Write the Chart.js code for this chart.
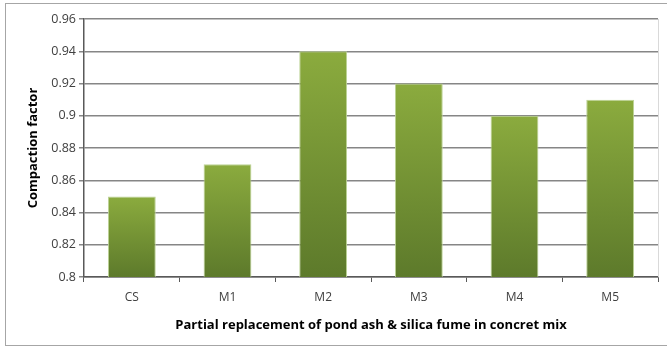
<!DOCTYPE html>
<html>
<head>
<meta charset="utf-8">
<script src="https://cdn.jsdelivr.net/npm/chart.js@4"></script>
<style>
  html, body { margin: 0; padding: 0; background: #fff; }
  #wrap { width: 667px; height: 349px; position: relative; }
</style>
</head>
<body>
<div id="wrap"><canvas id="c" width="667" height="349"></canvas></div>
<script>
const categories = ['CS', 'M1', 'M2', 'M3', 'M4', 'M5'];
const compactionFactor = [0.85, 0.87, 0.94, 0.92, 0.90, 0.91];
const yTicks = [0.8, 0.82, 0.84, 0.86, 0.88, 0.9, 0.92, 0.94, 0.96];
const yTitle = 'Compaction factor';
const xTitle = 'Partial replacement of pond ash & silica fume in concret mix';

const FONT = "'Open Sans', 'Noto Sans', sans-serif";

// Vertical green gradient per bar: lighter at the top, darker at the base
function barGradient(ctx) {
  const chart = ctx.chart;
  const y = chart.scales.y;
  if (!y || ctx.raw === undefined) return '#77973a';
  const top = y.getPixelForValue(ctx.raw);
  const bottom = y.getPixelForValue(y.min);
  if (!isFinite(top) || !isFinite(bottom) || top === bottom) return '#77973a';
  const g = chart.ctx.createLinearGradient(0, top, 0, bottom);
  g.addColorStop(0, '#8bab3e');
  g.addColorStop(1, '#5d7a2b');
  return g;
}

// Outer frame of the chart and the light right edge of the plot area
const framePlugin = {
  id: 'frame',
  beforeDraw(chart) {
    const c = chart.ctx;
    c.save();
    c.fillStyle = '#ffffff';
    c.fillRect(0, 0, chart.width, chart.height);
    c.strokeStyle = '#a6a6a6';
    c.lineWidth = 1;
    c.strokeRect(5.5, 3.5, chart.width - 5, chart.height - 7);
    c.restore();
  },
  afterDraw(chart) {
    const a = chart.chartArea;
    const c = chart.ctx;
    c.save();
    c.strokeStyle = '#d9d9d9';
    c.lineWidth = 1;
    c.beginPath();
    c.moveTo(Math.round(a.right) + 0.5, a.top);
    c.lineTo(Math.round(a.right) + 0.5, a.bottom);
    c.stroke();
    c.restore();
  }
};

new Chart(document.getElementById('c'), {
  type: 'bar',
  data: {
    labels: categories,
    datasets: [{
      data: compactionFactor,
      backgroundColor: barGradient,
      borderColor: '#bcd395',
      borderWidth: 1,
      categoryPercentage: 1.0,
      barPercentage: 0.5
    }]
  },
  options: {
    responsive: false,
    animation: false,
    devicePixelRatio: 1,
    layout: { padding: { left: 0, top: 19, right: 9, bottom: 0 } },
    plugins: {
      legend: { display: false },
      tooltip: { enabled: false }
    },
    scales: {
      x: {
        offset: true,
        grid: {
          display: true,
          offset: true,
          drawOnChartArea: false,
          drawTicks: true,
          tickLength: 5,
          color: '#595959',
          lineWidth: 1
        },
        border: { display: true, color: '#595959', width: 1.5 },
        ticks: {
          color: '#404040',
          padding: 8,
          font: { family: FONT, size: 12 }
        },
        title: {
          display: true,
          text: xTitle,
          color: '#000',
          padding: { top: 16, bottom: 16 },
          font: { family: FONT, size: 13, weight: 'bold' }
        },
        afterFit(axis) { axis.height = 72; }
      },
      y: {
        min: 0.8,
        max: 0.96,
        afterBuildTicks(axis) { axis.ticks = yTicks.map(v => ({ value: v })); },
        grid: {
          color: '#868686',
          lineWidth: 1.5,
          tickLength: 5,
          drawTicks: true
        },
        border: { display: true, color: '#595959', width: 1.5 },
        ticks: {
          color: '#404040',
          padding: 3,
          font: { family: FONT, size: 12.5 },
          callback: v => String(v)
        },
        title: {
          display: true,
          text: yTitle,
          color: '#000',
          padding: { top: 25, bottom: 25 },
          font: { family: FONT, size: 13, weight: 'bold' }
        },
        afterFit(axis) { axis.width = 84; }
      }
    }
  },
  plugins: [framePlugin]
});
</script>
</body>
</html>
